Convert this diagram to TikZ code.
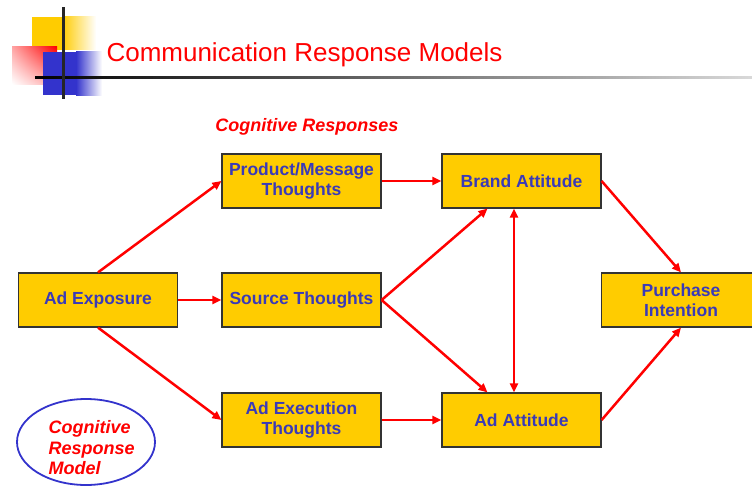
\documentclass[tikz,border=0pt]{standalone}
\usepackage{fontspec}
\setmainfont{Liberation Sans}
\usetikzlibrary{arrows.meta,shapes.geometric,shadings}
\definecolor{boxfill}{HTML}{FFCC00}
\definecolor{boxtext}{HTML}{3A3AB8}
\definecolor{arrowred}{HTML}{FF0000}
\definecolor{logoblue}{HTML}{3333CC}
\begin{document}
\begin{tikzpicture}[x=1pt,y=-1pt,
  stage/.style={draw=black!80, line width=1.2pt, fill=boxfill, minimum width=159pt,
    minimum height=54pt, inner sep=0pt, align=center, text=boxtext,
    font=\fontsize{17.5}{20.5}\selectfont\bfseries},
  link/.style={draw=arrowred, line width=2.5pt, -{Triangle[length=9pt,width=8pt]}},
  biglink/.style={link, {Triangle[length=9pt,width=8pt]}-{Triangle[length=9pt,width=8pt]}},
  redtext/.style={text=arrowred, font=\fontsize{18}{20.5}\selectfont\bfseries\itshape}]
\useasboundingbox (0,0) rectangle (752,487);
\clip (0,0) rectangle (752,487);

% header ornament
\fill[boxfill] (32,17) rectangle (62,50);
\shade[left color=boxfill, right color=white] (62,17) rectangle (96,50);
\shade[upper right=red, upper left=red!35, lower right=red!35, lower left=white] (12,47) rectangle (57,84);
\fill[logoblue] (43,52) rectangle (76,95);
\shade[left color=logoblue, right color=white] (76,52) rectangle (102,95);
\shade[left color=black, right color=black!15] (35,76) rectangle (752,78.5);
\fill[black!85] (62,7) rectangle (64.5,99);
\node[anchor=west, text=arrowred, font=\fontsize{26}{30}\selectfont] (title) at (103,55) {Communication Response Models};

% model stages
\node[stage] (adexp) at (98,300) {Ad Exposure};
\node[stage] (pm) at (301.5,181) {Product/Message\\Thoughts};
\node[stage] (src) at (301.5,300) {Source Thoughts};
\node[stage] (exec) at (301.5,420) {Ad Execution\\Thoughts};
\node[stage] (brand) at (521.5,181) {Brand Attitude};
\node[stage] (adatt) at (521.5,420) {Ad Attitude};
\node[stage] (purch) at (681,300) {Purchase\\Intention};

\node[redtext] (cogresp) at (307,127) {Cognitive Responses};

% connectors
\draw[link] (adexp.north) -- (pm.west);
\draw[link] (adexp.east) -- (src.west);
\draw[link] (adexp.south) -- (exec.west);
\draw[link] (pm.east) -- (brand.west);
\draw[link] (src.east) -- ([xshift=-34pt]brand.south);
\draw[link] (src.east) -- ([xshift=-34pt]adatt.north);
\draw[link] (exec.east) -- (adatt.west);
\draw[biglink] ([xshift=-7.5pt]brand.south) -- ([xshift=-7.5pt]adatt.north);
\draw[link] (brand.east) -- (purch.north);
\draw[link] (adatt.east) -- (purch.south);

% model label
\node[draw=logoblue, line width=1.8pt, ellipse, minimum width=138pt, minimum height=86pt] (oval) at (86,442) {};
\node[redtext, align=left, anchor=west] (ovaltext) at (45,448) {Cognitive\\Response\\Model};
\end{tikzpicture}
\end{document}
